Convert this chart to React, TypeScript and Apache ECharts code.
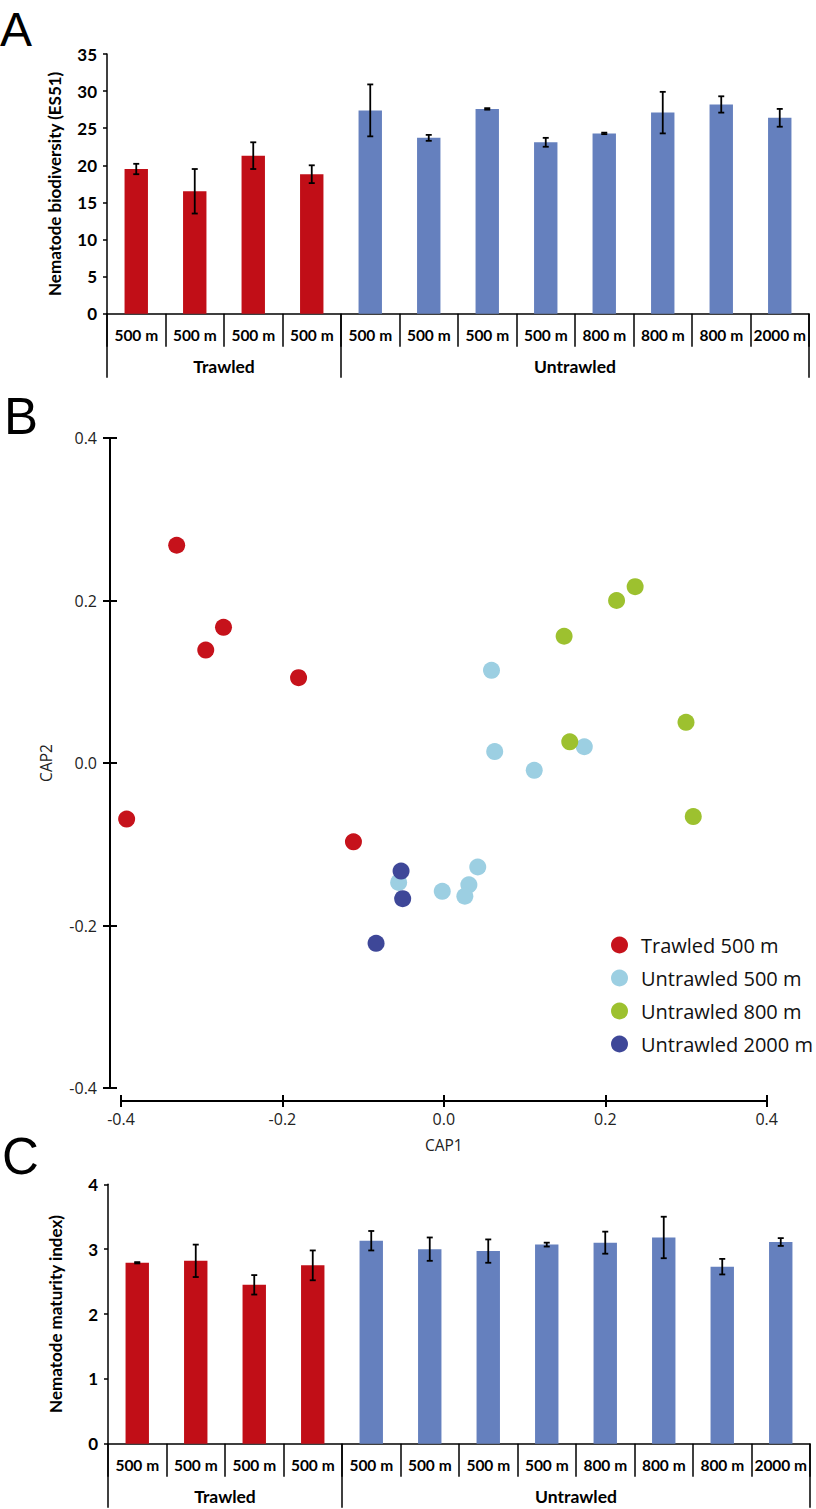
import React, { useEffect, useRef } from "react";
import * as echarts from "echarts";

// ---------- DATA ----------
const categories = ["500 m", "500 m", "500 m", "500 m", "500 m", "500 m", "500 m", "500 m", "800 m", "800 m", "800 m", "2000 m"];
const groupNames = ["Trawled", "Untrawled"];
const groupSizes = [4, 8];

const es51Values = [19.5, 16.5, 21.3, 18.8, 27.4, 23.7, 27.6, 23.1, 24.3, 27.1, 28.2, 26.4];
const es51Errors = [0.7, 3.0, 1.8, 1.2, 3.5, 0.4, 0.1, 0.6, 0.1, 2.8, 1.1, 1.2];

const maturityValues = [2.79, 2.82, 2.45, 2.75, 3.13, 3.0, 2.97, 3.07, 3.1, 3.18, 2.73, 3.11];
const maturityErrors = [0.01, 0.25, 0.15, 0.23, 0.15, 0.18, 0.18, 0.03, 0.17, 0.32, 0.12, 0.06];

const seriesNames = ["Trawled 500 m", "Untrawled 500 m", "Untrawled 800 m", "Untrawled 2000 m"];
const trawled500 = [[-0.331, 0.268], [-0.273, 0.167], [-0.295, 0.139], [-0.18, 0.105], [-0.393, -0.069], [-0.112, -0.097]];
const untrawled500 = [[0.059, 0.114], [0.063, 0.014], [0.112, -0.009], [0.174, 0.02], [-0.056, -0.147], [-0.002, -0.158], [0.042, -0.128], [0.031, -0.15], [0.026, -0.164]];
const untrawled800 = [[0.237, 0.217], [0.214, 0.2], [0.149, 0.156], [0.3, 0.05], [0.156, 0.026], [0.309, -0.066], [0.008, -0.403]];
const untrawled2000 = [[-0.053, -0.133], [-0.051, -0.167], [-0.084, -0.222]];

const es51Ticks = { min: 0, max: 35, interval: 5 };
const maturityTicks = { min: 0, max: 4, interval: 1 };
const capTicks = { min: -0.4, max: 0.4, interval: 0.2 };

// ---------- STYLE ----------
const RED = "#C10E17";
const BLUE = "#6580BE";
const scatterColors = ["#C6121B", "#9CCFE2", "#9DC12F", "#3E4798"];
const BAR_FONT = "Lato";
const B_FONT = "Open Sans";

const groupIndexOf: number[] = [];
groupSizes.forEach((n, g) => { for (let k = 0; k < n; k++) groupIndexOf.push(g); });
const groupBounds: number[] = [0];
groupSizes.forEach((n) => groupBounds.push(groupBounds[groupBounds.length - 1] + n));
const groupCenters = groupSizes.map((n, g) => groupBounds[g] + n / 2);

const errRender = (params: any, api: any) => {
  const i = api.value(0);
  const v = api.value(1);
  const e = api.value(2);
  const hi = api.coord([i, v + e]);
  const lo = api.coord([i, v - e]);
  const hw = 3;
  const st = { stroke: "#000", lineWidth: 1.8 };
  return {
    type: "group",
    children: [
      { type: "line", shape: { x1: hi[0], y1: hi[1], x2: lo[0], y2: lo[1] }, style: st },
      { type: "line", shape: { x1: hi[0] - hw, y1: hi[1], x2: hi[0] + hw, y2: hi[1] }, style: st },
      { type: "line", shape: { x1: lo[0] - hw, y1: lo[1], x2: lo[0] + hw, y2: lo[1] }, style: st },
    ],
  };
};

const catAxis = (gridIndex: number) => ({
  type: "category",
  gridIndex,
  data: categories,
  axisLine: { lineStyle: { color: "#000", width: 1.5 } },
  axisTick: { show: true, interval: 0, length: 33, lineStyle: { color: "#000", width: 1.5 } },
  axisLabel: { interval: 0, color: "#000", fontFamily: BAR_FONT, fontWeight: "bold", fontSize: 15.5, margin: 13 },
  splitLine: { show: false },
});

const groupAxis = (gridIndex: number) => ({
  type: "value",
  gridIndex,
  min: 0,
  max: categories.length,
  position: "bottom",
  axisLine: { show: false },
  axisTick: { show: true, customValues: groupBounds, length: 64, lineStyle: { color: "#000", width: 1.5 } },
  axisLabel: {
    customValues: groupCenters,
    formatter: (v: number) => { const k = groupCenters.indexOf(v); return k >= 0 ? groupNames[k] : ""; },
    color: "#000", fontFamily: BAR_FONT, fontWeight: "bold", fontSize: 17.5, margin: 44,
  },
  splitLine: { show: false },
});

const barValueAxis = (gridIndex: number, ticks: any, name: string) => ({
  type: "value",
  gridIndex,
  ...ticks,
  name,
  nameLocation: "middle",
  nameGap: 44,
  nameTextStyle: { color: "#000", fontFamily: BAR_FONT, fontWeight: "bold", fontSize: 17 },
  axisLine: { show: true, lineStyle: { color: "#000", width: 1.5 } },
  axisTick: { show: true, length: 4, lineStyle: { color: "#000", width: 1.5 } },
  axisLabel: { color: "#000", fontFamily: BAR_FONT, fontWeight: "bold", fontSize: 17, margin: 10 },
  splitLine: { show: false },
});

const capLabelFmt = (v: number) => v.toFixed(1);

const option: any = {
  animation: false,
  backgroundColor: "#fff",
  grid: [
    { left: 107, top: 54, width: 702, height: 259.7 },
    { left: 121, top: 438, width: 645.7, height: 650 },
    { left: 108, top: 1184.3, width: 702, height: 259.4 },
  ],
  xAxis: [
    catAxis(0),
    groupAxis(0),
    {
      type: "value", gridIndex: 1, ...capTicks, offset: 13,
      name: "CAP1", nameLocation: "middle", nameGap: 36,
      nameTextStyle: { color: "#222", fontFamily: B_FONT, fontSize: 15.5 },
      axisLine: { show: true, onZero: false, lineStyle: { color: "#000", width: 2 } },
      axisTick: { show: true, length: 6, lineStyle: { color: "#000", width: 2 } },
      axisLabel: { formatter: capLabelFmt, color: "#222", fontFamily: B_FONT, fontSize: 16, margin: 10 },
      splitLine: { show: false },
    },
    {
      type: "value", gridIndex: 1, ...capTicks, offset: 13, position: "bottom",
      axisLine: { show: false, onZero: false },
      axisTick: { show: true, inside: true, length: 6, lineStyle: { color: "#000", width: 2 } },
      axisLabel: { show: false },
      splitLine: { show: false },
    },
    catAxis(2),
    groupAxis(2),
  ],
  yAxis: [
    barValueAxis(0, es51Ticks, "Nematode biodiversity (ES51)"),
    {
      type: "value", gridIndex: 1, ...capTicks, offset: 11,
      name: "CAP2", nameLocation: "middle", nameGap: 56,
      nameTextStyle: { color: "#222", fontFamily: B_FONT, fontSize: 15.5 },
      axisLine: { show: true, onZero: false, lineStyle: { color: "#000", width: 2 } },
      axisTick: { show: true, length: 7, lineStyle: { color: "#000", width: 2 } },
      axisLabel: { formatter: capLabelFmt, color: "#222", fontFamily: B_FONT, fontSize: 16, margin: 13 },
      splitLine: { show: false },
    },
    {
      type: "value", gridIndex: 1, ...capTicks, offset: 11, position: "left",
      axisLine: { show: false, onZero: false },
      axisTick: { show: true, inside: true, length: 7, lineStyle: { color: "#000", width: 2 } },
      axisLabel: { show: false },
      splitLine: { show: false },
    },
    barValueAxis(2, maturityTicks, "Nematode maturity index)"),
  ],
  legend: {
    orient: "vertical",
    left: 606,
    top: 930,
    itemWidth: 17,
    itemHeight: 17,
    itemGap: 13,
    icon: "circle",
    data: seriesNames,
    textStyle: { color: "#111", fontFamily: B_FONT, fontSize: 20, padding: [0, 0, 0, 8] },
  },
  graphic: [
    { type: "text", style: { x: 0, y: 29, text: "A", font: '48px "Liberation Sans"', fill: "#000", textVerticalAlign: "middle" } },
    { type: "text", style: { x: 4, y: 416, text: "B", font: '51px "Liberation Sans"', fill: "#000", textVerticalAlign: "middle" } },
    { type: "text", style: { x: 2, y: 1156, text: "C", font: '51px "Liberation Sans"', fill: "#000", textVerticalAlign: "middle" } },
  ],
  series: [
    {
      type: "bar", xAxisIndex: 0, yAxisIndex: 0, barWidth: "40%",
      data: es51Values.map((v, i) => ({ value: v, itemStyle: { color: groupIndexOf[i] === 0 ? RED : BLUE } })),
    },
    {
      type: "custom", xAxisIndex: 0, yAxisIndex: 0, renderItem: errRender,
      encode: { x: 0, y: 1 },
      data: es51Values.map((v, i) => [i, v, es51Errors[i]]),
      z: 5,
    },
    ...[trawled500, untrawled500, untrawled800, untrawled2000].map((d, k) => ({
      type: "scatter", name: seriesNames[k], xAxisIndex: 2, yAxisIndex: 1,
      symbolSize: 17, itemStyle: { color: scatterColors[k], opacity: 1 }, data: d,
    })),
    {
      type: "bar", xAxisIndex: 4, yAxisIndex: 3, barWidth: "40%",
      data: maturityValues.map((v, i) => ({ value: v, itemStyle: { color: groupIndexOf[i] === 0 ? RED : BLUE } })),
    },
    {
      type: "custom", xAxisIndex: 4, yAxisIndex: 3, renderItem: errRender,
      encode: { x: 0, y: 1 },
      data: maturityValues.map((v, i) => [i, v, maturityErrors[i]]),
      z: 5,
    },
  ],
};

export default function App() {
  const ref = useRef<HTMLDivElement>(null);
  useEffect(() => {
    const chart = echarts.init(ref.current!, null, { renderer: "svg" });
    chart.setOption(option);
    return () => chart.dispose();
  }, []);
  return (
    <div
      ref={ref}
      style={{ position: "absolute", left: 0, top: 0, width: 816, height: 1509, background: "#fff" }}
    />
  );
}
